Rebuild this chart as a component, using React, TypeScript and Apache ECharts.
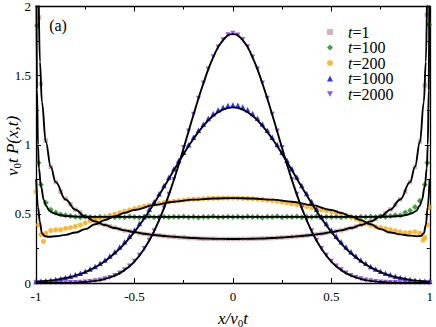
import React, { useEffect, useRef } from "react";
import * as echarts from "echarts";

// ---------- data ----------
const X_MIN = -1;
const X_STEP = 0.025; // marker sampling step along x/v0t
const CURVE_STEP = 0.05;

const SERIES_NAMES = ["t=1", "t=100", "t=200", "t=1000", "t=2000"];
const X_TICKS = [-1, -0.5, 0, 0.5, 1];
const Y_TICKS = [0, 0.5, 1, 1.5, 2];

// markers, one value per x step from -1 to 1
const T1_MARKERS = [
  null, 1.44, 1.03, 0.84, 0.73, 0.66, 0.61, 0.57, 0.53, 0.51, 0.48, 0.465, 0.45, 0.43, 0.42, 0.41, 0.4, 0.39, 0.38, 0.375,
  0.37, 0.36, 0.355, 0.35, 0.35, 0.345, 0.34, 0.335, 0.335, 0.33, 0.33, 0.325, 0.325, 0.322, 0.32, 0.32, 0.32, 0.318, 0.318, 0.318,
  0.318, 0.318, 0.319, 0.319, 0.32, 0.321, 0.322, 0.323, 0.325, 0.327, 0.329, 0.331, 0.334, 0.337, 0.34, 0.344, 0.348, 0.352, 0.357, 0.362,
  0.368, 0.374, 0.381, 0.39, 0.398, 0.408, 0.42, 0.432, 0.447, 0.463, 0.482, 0.505, 0.532, 0.565, 0.605, 0.66, 0.73, 0.84, 1.02, 1.43,
  null,
];
const T1_EXTRA = [[-0.985, 1.92], [0.985, 1.94]];

const T100_MARKERS = [
  null, 0.71, 0.58, 0.53, 0.51, 0.495, 0.49, 0.485, 0.48, 0.476, 0.481, 0.477, 0.474, 0.48, 0.477, 0.482, 0.475, 0.479, 0.476, 0.481,
  0.478, 0.474, 0.479, 0.482, 0.476, 0.478, 0.48, 0.475, 0.479, 0.477, 0.481, 0.476, 0.479, 0.474, 0.48, 0.477, 0.482, 0.476, 0.478, 0.48,
  0.477, 0.479, 0.475, 0.481, 0.477, 0.479, 0.474, 0.48, 0.478, 0.482, 0.476, 0.479, 0.477, 0.481, 0.475, 0.479, 0.478, 0.482, 0.476, 0.479,
  0.477, 0.481, 0.476, 0.48, 0.478, 0.475, 0.48, 0.477, 0.481, 0.478, 0.482, 0.48, 0.485, 0.49, 0.49, 0.51, 0.525, 0.55, 0.595, 0.71,
  null,
];
const T100_EXTRA = [[-0.995, 1.86], [-0.988, 0.87], [0.988, 0.87], [0.997, 1.87]];

const T200_MARKERS = [
  0.66, 0.35, 0.36, 0.38, 0.385, 0.385, 0.395, 0.4, 0.41, 0.42, 0.435, 0.45, 0.46, 0.47, 0.477, 0.487, 0.497, 0.508, 0.518, 0.528,
  0.538, 0.547, 0.555, 0.563, 0.57, 0.576, 0.582, 0.587, 0.592, 0.596, 0.6, 0.603, 0.606, 0.608, 0.61, 0.612, 0.613, 0.614, 0.615, 0.615,
  0.615, 0.614, 0.613, 0.612, 0.61, 0.607, 0.604, 0.6, 0.596, 0.591, 0.586, 0.58, 0.574, 0.567, 0.56, 0.552, 0.544, 0.536, 0.53, 0.523,
  0.517, 0.51, 0.5, 0.489, 0.477, 0.465, 0.449, 0.432, 0.418, 0.407, 0.4, 0.393, 0.385, 0.377, 0.37, 0.363, 0.365, 0.37, 0.36, 0.33,
  0.55,
];
const T200_EXTRA = [[-0.988, 0.42], [-0.962, 0.3], [0.966, 0.31], [0.988, 0.42]];

const T1000_MARKERS = [
  0.01, 0.013, 0.016, 0.02, 0.025, 0.031, 0.039, 0.048, 0.059, 0.071, 0.085, 0.101, 0.12, 0.142, 0.167, 0.195, 0.226, 0.26, 0.298, 0.339,
  0.383, 0.43, 0.48, 0.533, 0.588, 0.646, 0.705, 0.765, 0.826, 0.886, 0.945, 1.0, 1.054, 1.104, 1.149, 1.19, 1.224, 1.252, 1.272, 1.284,
  1.288, 1.285, 1.273, 1.253, 1.226, 1.191, 1.15, 1.105, 1.055, 1.001, 0.946, 0.887, 0.827, 0.766, 0.706, 0.647, 0.589, 0.533, 0.48, 0.43,
  0.383, 0.339, 0.298, 0.26, 0.226, 0.195, 0.167, 0.142, 0.12, 0.101, 0.085, 0.071, 0.059, 0.048, 0.039, 0.031, 0.025, 0.02, 0.016, 0.013,
  0.01,
];

const T2000_MARKERS = [
  0.001, 0.001, 0.001, 0.001, 0.001, 0.002, 0.002, 0.003, 0.004, 0.006, 0.008, 0.011, 0.016, 0.022, 0.03, 0.04, 0.054, 0.072, 0.095, 0.123,
  0.158, 0.2, 0.25, 0.31, 0.378, 0.457, 0.545, 0.642, 0.748, 0.861, 0.98, 1.099, 1.22, 1.337, 1.446, 1.548, 1.636, 1.707, 1.76, 1.795,
  1.806, 1.794, 1.762, 1.708, 1.635, 1.548, 1.447, 1.337, 1.22, 1.099, 0.98, 0.861, 0.748, 0.642, 0.545, 0.457, 0.378, 0.31, 0.25, 0.2,
  0.158, 0.123, 0.095, 0.072, 0.054, 0.04, 0.03, 0.022, 0.016, 0.011, 0.008, 0.006, 0.004, 0.003, 0.002, 0.002, 0.001, 0.001, 0.001, 0.001,
  0.001,
];

// theory curves (black lines)
const T1_CURVE = [
  [-0.997, 4.1], [-0.99, 2.26], [-0.98, 1.6], [-0.97, 1.31], [-0.95, 1.02], [-0.925, 0.84], [-0.9, 0.73], [-0.85, 0.604], [-0.8, 0.531],
  [-0.75, 0.481], [-0.7, 0.446], [-0.65, 0.419], [-0.6, 0.398], [-0.55, 0.381], [-0.5, 0.368], [-0.45, 0.356], [-0.4, 0.347],
  [-0.35, 0.34], [-0.3, 0.334], [-0.25, 0.329], [-0.2, 0.325], [-0.15, 0.322], [-0.1, 0.32], [-0.05, 0.319], [0, 0.318],
  [0.05, 0.319], [0.1, 0.32], [0.15, 0.322], [0.2, 0.325], [0.25, 0.329], [0.3, 0.334], [0.35, 0.34], [0.4, 0.347], [0.45, 0.356],
  [0.5, 0.368], [0.55, 0.381], [0.6, 0.398], [0.65, 0.419], [0.7, 0.446], [0.75, 0.481], [0.8, 0.531], [0.85, 0.604], [0.9, 0.73],
  [0.925, 0.84], [0.95, 1.02], [0.97, 1.31], [0.98, 1.6], [0.99, 2.26], [0.997, 4.1],
];
const T100_CURVE = [
  [-0.998, 2.2], [-0.995, 1.4], [-0.99, 1.0], [-0.985, 0.83], [-0.975, 0.7], [-0.96, 0.6], [-0.95, 0.56], [-0.93, 0.52], [-0.91, 0.505],
  [-0.88, 0.492], [-0.85, 0.485], [-0.8, 0.48], [-0.7, 0.478], [-0.5, 0.478], [0, 0.478], [0.5, 0.478], [0.7, 0.478], [0.8, 0.48],
  [0.85, 0.485], [0.88, 0.492], [0.91, 0.505], [0.93, 0.52], [0.95, 0.56], [0.96, 0.6], [0.975, 0.7], [0.985, 0.83], [0.99, 1.0],
  [0.995, 1.4], [0.998, 2.2],
];
const T200_CURVE = [
  [-0.999, 0.75], [-0.99, 0.55], [-0.98, 0.44], [-0.97, 0.36], [-0.955, 0.338], [-0.935, 0.334], [-0.9, 0.338], [-0.85, 0.348],
  [-0.8, 0.365], [-0.75, 0.39], [-0.7, 0.425], [-0.65, 0.455], [-0.6, 0.483], [-0.55, 0.507], [-0.5, 0.528], [-0.4, 0.563],
  [-0.3, 0.588], [-0.2, 0.603], [-0.1, 0.611], [0, 0.614], [0.1, 0.611], [0.2, 0.603], [0.3, 0.588], [0.4, 0.563], [0.5, 0.528],
  [0.55, 0.507], [0.6, 0.483], [0.65, 0.455], [0.7, 0.425], [0.75, 0.39], [0.8, 0.365], [0.85, 0.352], [0.9, 0.343], [0.935, 0.338],
  [0.955, 0.34], [0.97, 0.36], [0.98, 0.42], [0.99, 0.55], [0.999, 0.75],
];
// one value per CURVE_STEP from -1 to 1
const T1000_CURVE = [
  0.009, 0.015, 0.023, 0.036, 0.054, 0.079, 0.113, 0.158, 0.215, 0.285, 0.37, 0.467, 0.577, 0.694, 0.815, 0.934, 1.043, 1.137, 1.209, 1.254,
  1.27, 1.254, 1.209, 1.137, 1.043, 0.934, 0.815, 0.694, 0.577, 0.467, 0.37, 0.285, 0.215, 0.158, 0.113, 0.079, 0.054, 0.036, 0.023, 0.015,
  0.009,
];
const T2000_CURVE = [
  0, 0, 0, 0.001, 0.003, 0.007, 0.015, 0.029, 0.053, 0.093, 0.155, 0.247, 0.375, 0.542, 0.745, 0.977, 1.217, 1.443, 1.632, 1.756,
  1.8, 1.756, 1.632, 1.443, 1.217, 0.977, 0.745, 0.542, 0.375, 0.247, 0.155, 0.093, 0.053, 0.029, 0.015, 0.007, 0.003, 0.001, 0, 0,
  0,
];

// ---------- helpers ----------
const r3 = (v: number) => Math.round(v * 1000) / 1000;
function onGrid(ys: (number | null)[], step: number, extra: number[][] = []) {
  const pts: number[][] = [];
  ys.forEach((y, i) => {
    if (y !== null) pts.push([r3(X_MIN + i * step), y]);
  });
  return pts.concat(extra).sort((a, b) => a[0] - b[0]);
}

const SERIF = '"Liberation Serif", "Times New Roman", "DejaVu Serif", serif';
const COLORS = ["#c6a3a5", "#128c12", "#ffa500", "#0000ff", "#7a30d2"];
const DOWN_TRIANGLE = "path://M0,0 L10,0 L5,9 Z";

export default function App() {
  const ref = useRef<HTMLDivElement>(null);

  useEffect(() => {
    if (!ref.current) return;
    const chart = echarts.init(ref.current, undefined, { renderer: "svg" });

    const markerSets = [
      onGrid(T1_MARKERS, X_STEP, T1_EXTRA),
      onGrid(T100_MARKERS, X_STEP, T100_EXTRA),
      onGrid(T200_MARKERS, X_STEP, T200_EXTRA),
      onGrid(T1000_MARKERS, X_STEP),
      onGrid(T2000_MARKERS, X_STEP),
    ];
    const curveSets = [T1_CURVE, T100_CURVE, T200_CURVE, onGrid(T1000_CURVE, CURVE_STEP), onGrid(T2000_CURVE, CURVE_STEP)];
    const symbols = ["rect", "diamond", "circle", "triangle", DOWN_TRIANGLE];
    const sizes = [4.5, 6, 5, 5.5, 5];
    const monotone = [true, true, true, false, false];

    const axisCommon = {
      type: "value" as const,
      axisLine: { show: true, onZero: false, lineStyle: { color: "#000", width: 1.3 } },
      axisTick: { show: true, inside: true, length: 5, lineStyle: { color: "#000", width: 1 } },
      minorTick: { show: true, splitNumber: 2, length: 3, lineStyle: { color: "#000", width: 1 } },
      splitLine: { show: false },
      minorSplitLine: { show: false },
    };
    const labelStyle = { color: "#000", fontSize: 13, fontFamily: SERIF };

    const scatter = SERIES_NAMES.map((name, k) => ({
      name,
      type: "scatter",
      xAxisIndex: 0,
      yAxisIndex: 0,
      data: markerSets[k],
      symbol: symbols[k],
      symbolSize: sizes[k],
      itemStyle: { color: COLORS[k] },
      z: 2 + k * 0.1,
    }));
    const lines = curveSets.map((data, k) => ({
      name: "theory " + SERIES_NAMES[k],
      type: "line",
      xAxisIndex: 0,
      yAxisIndex: 0,
      data,
      showSymbol: false,
      smooth: monotone[k] ? 0.4 : 0.5,
      ...(monotone[k] ? { smoothMonotone: "x" } : {}),
      lineStyle: { color: "#000", width: 1.9 },
      z: 5,
      clip: true,
    }));

    chart.setOption({
      animation: false,
      backgroundColor: "#fff",
      textStyle: { fontFamily: SERIF },
      grid: { left: 36, right: 5, top: 6, bottom: 44, containLabel: false },
      xAxis: [
        {
          ...axisCommon,
          position: "bottom",
          min: X_TICKS[0],
          max: X_TICKS[X_TICKS.length - 1],
          interval: 0.5,
          axisLabel: { ...labelStyle, margin: 7, formatter: (v: number) => String(v) },
        },
        {
          ...axisCommon,
          position: "top",
          min: X_TICKS[0],
          max: X_TICKS[X_TICKS.length - 1],
          interval: 0.5,
          axisLabel: { show: false },
        },
      ],
      yAxis: [
        {
          ...axisCommon,
          position: "left",
          min: Y_TICKS[0],
          max: Y_TICKS[Y_TICKS.length - 1],
          interval: 0.5,
          axisLabel: { ...labelStyle, margin: 5, formatter: (v: number) => String(v) },
        },
        {
          ...axisCommon,
          position: "right",
          min: Y_TICKS[0],
          max: Y_TICKS[Y_TICKS.length - 1],
          interval: 0.5,
          axisLabel: { show: false },
        },
      ],
      legend: {
        data: SERIES_NAMES,
        orient: "vertical",
        left: 322,
        top: 19,
        itemWidth: 6,
        itemHeight: 6,
        itemGap: -0.5,
        formatter: (name: string) => `{i|t}{n|${name.slice(1)}}`,
        textStyle: {
          fontFamily: SERIF,
          padding: [0, 0, 0, 10],
          rich: {
            i: { fontFamily: SERIF, fontStyle: "italic", fontSize: 16, color: "#000", lineHeight: 15 },
            n: { fontFamily: SERIF, fontSize: 16, color: "#000", lineHeight: 15 },
          },
        },
      },
      graphic: [
        {
          type: "text",
          x: 58,
          y: 25,
          style: { text: "(a)", fontFamily: SERIF, fontSize: 16, fill: "#000", align: "center", verticalAlign: "middle" },
        },
        {
          type: "text",
          x: 233,
          y: 318,
          style: {
            text: "{i|x/v}{s|0}{i|t}",
            fontFamily: SERIF,
            align: "center",
            verticalAlign: "middle",
            rich: {
              i: { fontFamily: SERIF, fontStyle: "italic", fontSize: 17, fill: "#000" },
              s: { fontFamily: SERIF, fontSize: 11, fill: "#000", padding: [9, 0, 0, 0] },
            },
          },
        },
        {
          type: "text",
          x: 12,
          y: 146,
          rotation: Math.PI / 2,
          style: {
            text: "{i|v}{s|0}{i|t P(x,t)}",
            fontFamily: SERIF,
            align: "center",
            verticalAlign: "middle",
            rich: {
              i: { fontFamily: SERIF, fontStyle: "italic", fontSize: 17, fill: "#000" },
              s: { fontFamily: SERIF, fontSize: 11, fill: "#000", padding: [9, 0, 0, 0] },
            },
          },
        },
      ],
      series: [...scatter, ...lines],
    });

    return () => chart.dispose();
  }, []);

  return (
    <div
      ref={ref}
      style={{ position: "fixed", left: 0, top: 0, width: 436, height: 327, background: "#fff" }}
    />
  );
}
